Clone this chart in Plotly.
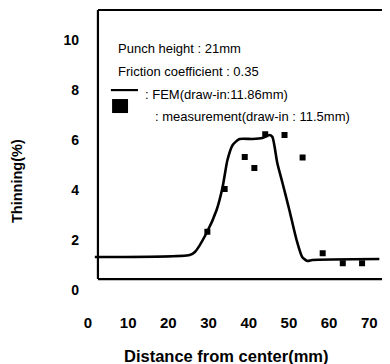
import plotly.graph_objects as go

# FEM curve (distance mm, thinning %)
fem_x = [1.7, 25.3, 26.6, 29.5, 32.0, 33.5, 34.7, 36.0, 37.7, 40.9, 43.4, 45.2, 45.9,
         47.1, 48.4, 50.1, 51.9, 53.3, 54.6, 55.8, 72.5]
fem_y = [1.32, 1.4, 1.52, 2.28, 3.2, 4.12, 5.2, 5.8, 6.04, 6.04, 6.08, 6.2, 6.12,
         5.08, 4.28, 3.2, 2.0, 1.32, 1.16, 1.2, 1.24]

# Measurement points
meas_x = [29.7, 34.0, 39.0, 41.4, 44.1, 48.9, 53.4, 58.4, 63.4, 68.2]
meas_y = [2.33, 4.04, 5.32, 4.88, 6.23, 6.2, 5.3, 1.47, 1.07, 1.07]

x_ticks = [0, 10, 20, 30, 40, 50, 60, 70]
y_ticks = [0, 2, 4, 6, 8, 10]

info_lines = ["Punch height : 21mm", "Friction coefficient : 0.35"]
legend_labels = [": FEM(draw-in:11.86mm)", ": measurement(draw-in : 11.5mm)"]

FONT = "Liberation Sans, Arial, sans-serif"

fig = go.Figure()
fig.add_trace(go.Scatter(x=fem_x, y=fem_y, mode="lines",
                         line=dict(color="black", width=2.6, shape="spline", smoothing=0.6),
                         showlegend=False, hoverinfo="skip"))
fig.add_trace(go.Scatter(x=meas_x, y=meas_y, mode="markers",
                         marker=dict(symbol="square", size=6, color="black"),
                         showlegend=False))

fig.update_layout(
    width=382, height=356,
    margin=dict(l=80, r=1, t=2, b=74, autoexpand=False),
    paper_bgcolor="white", plot_bgcolor="white",
    font=dict(family=FONT, color="black"),
    xaxis=dict(range=[0, 74.9], tickvals=x_ticks, ticktext=[str(v) for v in x_ticks],
               showgrid=False, zeroline=False, showline=False, ticks="",
               automargin=False,
               tickfont=dict(size=15, family=FONT, weight="bold"),
               ticklabelstandoff=22),
    yaxis=dict(range=[0, 11.2], tickvals=y_ticks, ticktext=[str(v) for v in y_ticks],
               showgrid=False, zeroline=False, showline=False, ticks="",
               automargin=False,
               tickfont=dict(size=14, family=FONT, weight="bold"),
               ticklabelstandoff=8),
    shapes=[
        dict(type="line", xref="paper", yref="paper", x0=0.033, x1=0.033, y0=0.039, y1=1.0,
             line=dict(color="black", width=2.2)),
        dict(type="line", xref="paper", yref="paper", x0=0.033, x1=1.0, y0=0.039, y1=0.039,
             line=dict(color="black", width=2.2)),
        dict(type="line", xref="paper", yref="paper", x0=0.033, x1=1.0, y0=1.0, y1=1.0,
             line=dict(color="black", width=2)),
        dict(type="line", xref="paper", yref="paper", x0=0.998, x1=0.998, y0=0.039, y1=1.0,
             line=dict(color="#bbbbbb", width=1, dash="dot")),
        # legend samples
        dict(type="line", xref="paper", yref="paper", x0=0.076, x1=0.166, y0=0.714, y1=0.714,
             line=dict(color="black", width=2.2)),
        dict(type="rect", xref="paper", yref="paper", x0=0.080, x1=0.133, y0=0.632, y1=0.682,
             fillcolor="black", line=dict(color="black", width=0)),
    ],
    annotations=[
        dict(text=info_lines[0], xref="paper", yref="paper", x=0.093, y=0.861,
             xanchor="left", yanchor="middle", showarrow=False, font=dict(size=13)),
        dict(text=info_lines[1], xref="paper", yref="paper", x=0.093, y=0.779,
             xanchor="left", yanchor="middle", showarrow=False, font=dict(size=13)),
        dict(text=legend_labels[0], xref="paper", yref="paper", x=0.183, y=0.70,
             xanchor="left", yanchor="middle", showarrow=False, font=dict(size=13)),
        dict(text=legend_labels[1], xref="paper", yref="paper", x=0.216, y=0.618,
             xanchor="left", yanchor="middle", showarrow=False, font=dict(size=13)),
        dict(text="<b>Thinning(%)</b>", xref="paper", yref="paper", x=-0.236, y=0.389,
             textangle=-90, xanchor="center", yanchor="middle", showarrow=False,
             font=dict(size=14.5)),
        dict(text="<b>Distance from center(mm)</b>", xref="paper", yref="paper", x=0.458, y=-0.236,
             xanchor="center", yanchor="middle", showarrow=False, font=dict(size=16.5)),
    ],
)

fig.write_html("out.html")
